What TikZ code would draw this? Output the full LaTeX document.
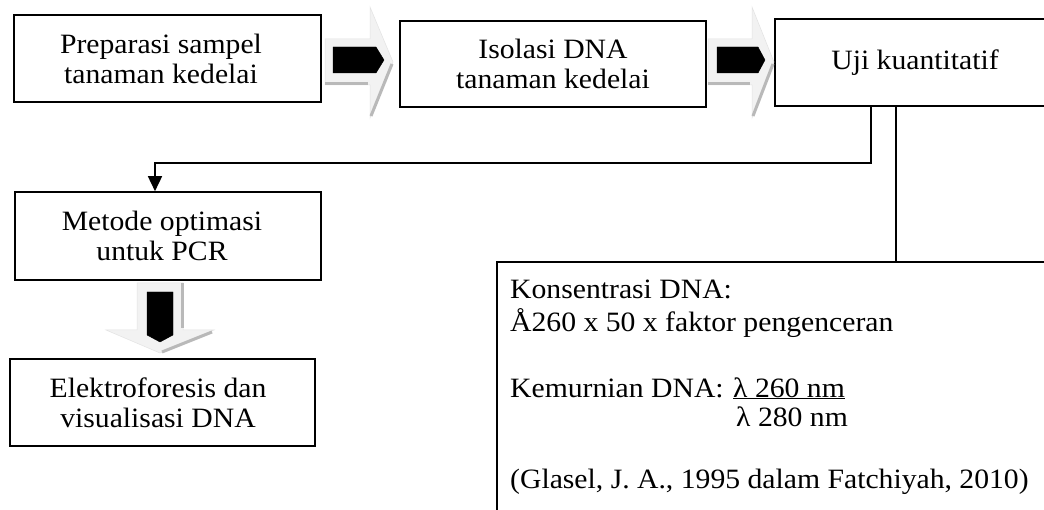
\documentclass[tikz,border=0pt]{standalone}
\usepackage{fontspec}
\setmainfont{Liberation Serif}[FakeStretch=1.06]
\usetikzlibrary{arrows.meta}
\tikzset{
  box/.style={draw, line width=1.6pt, align=center, inner sep=0pt, font=\fontsize{28}{30}\selectfont},
  boxtext/.style={align=center, inner sep=0pt, font=\fontsize{28}{30}\selectfont},
  txt/.style={anchor=base west, inner sep=0pt, font=\fontsize{28}{30}\selectfont},
  conn/.style={line width=1.6pt},
  garrow/.style={fill=gray!10, draw=gray!22, line width=0.5pt},
  gshade/.style={draw=gray!55, line width=3pt},
  barrow/.style={fill=black, draw=black, line width=0.4pt}
}
\begin{document}
\begin{tikzpicture}[x=1pt, y=-1pt]
\useasboundingbox (0,0) rectangle (1044,510);
\clip (0,0) rectangle (1044,510);
\fill[white] (0,0) rectangle (1044,510);

% boxes
\node[box, minimum width=307pt, minimum height=87pt] (b1) at (167.5,58.5) {};
\node[boxtext] (b1t) at (161,58.5) {Preparasi sampel\\tanaman kedelai};
\node[box, minimum width=306pt, minimum height=86pt] (b2) at (553,64) {Isolasi DNA\\tanaman kedelai};
\node[box, minimum width=280pt, minimum height=87pt] (b3) at (915,62.5) {Uji kuantitatif};
\node[box, minimum width=306pt, minimum height=88pt] (b4) at (168,236) {};
\node[boxtext] (b4t) at (162,236) {Metode optimasi\\untuk PCR};
\node[box, minimum width=305pt, minimum height=87pt] (b5) at (162.5,402.5) {};
\node[boxtext] (b5t) at (158,402.5) {Elektroforesis dan\\visualisasi DNA};
\node[box, minimum width=563pt, minimum height=258pt] (big) at (778.5,391) {};

% text in big box
\node[txt] (t1) at (510,299) {Konsentrasi DNA:};
\node[txt] (t2) at (510,332) {Å260 x 50 x faktor pengenceran};
\node[txt] (t3) at (510,397) {Kemurnian DNA:};
\node[txt] (t4) at (733,397) {\underline{λ 260 nm}};
\node[txt] (t5) at (736,426) {λ 280 nm};
\node[txt] (t6) at (510,488) {(Glasel, J. A., 1995 dalam Fatchiyah, 2010)};

% connectors
\coordinate (j1) at (871,163);
\coordinate (j2) at (155,163);
\coordinate (j3) at (896,0);
\draw[conn, -{Triangle[length=15pt,width=14pt]}] (b3.south -| j1) -- (j1) -- (j2) -- (b4.north -| j2);
\draw[conn] (b3.south -| j3) -- (big.north -| j3);

% block arrow 1
\draw[garrow] (325,39) -- (370,39) -- (370,7) -- (393,62) -- (370,118) -- (370,85) -- (325,85) -- cycle;
\draw[gshade] (325,84) -- (368,84);
\draw[gshade] (392,64) -- (371,116);
\draw[barrow] (333,47) -- (376,47) -- (384,60) -- (376,73) -- (333,73) -- cycle;

% block arrow 2
\draw[garrow] (708,39) -- (752,39) -- (752,7) -- (774,62) -- (752,118) -- (752,85) -- (708,85) -- cycle;
\draw[gshade] (708,84) -- (750,84);
\draw[gshade] (773,64) -- (753,116);
\draw[barrow] (717,47) -- (758,47) -- (765,60) -- (758,73) -- (717,73) -- cycle;

% block arrow down
\draw[garrow] (137,283) -- (137,330) -- (106,330) -- (160,353) -- (214,330) -- (183,330) -- (183,283) -- cycle;
\draw[gshade] (182,283) -- (182,328);
\draw[gshade] (212,332) -- (162,352);
\draw[barrow] (147,292) -- (173,292) -- (173,335) -- (160,342) -- (147,335) -- cycle;
\end{tikzpicture}
\end{document}
